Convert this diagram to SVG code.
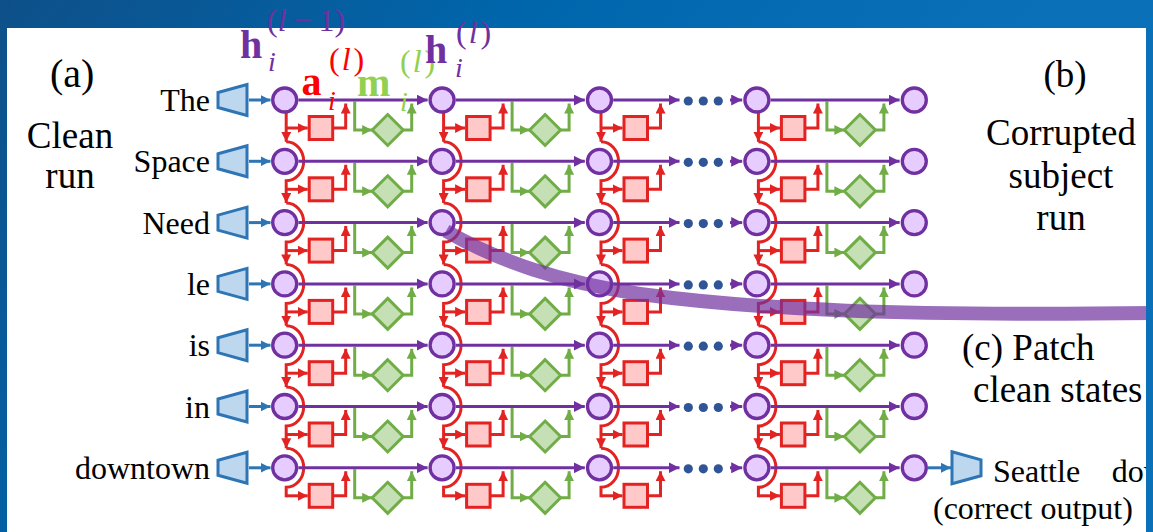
<svg xmlns="http://www.w3.org/2000/svg" xmlns:xlink="http://www.w3.org/1999/xlink" width="1153" height="532" viewBox="0 0 1153 532">
<style>
.pl{stroke:#7030a0;stroke-width:3;fill:none}
.rd{stroke:#e32322;stroke-width:3;fill:none}
.gr{stroke:#70ad47;stroke-width:3;fill:none}
.bl{stroke:#2e75b6;stroke-width:3;fill:none}
.node{fill:#e6ccff;stroke:#7030a0;stroke-width:3.3}
.sq{fill:#ffc9c9;stroke:#e32322;stroke-width:3}
.dm{fill:#c5e0b4;stroke:#70ad47;stroke-width:3}
.enc{fill:#bdd7ee;stroke:#2e75b6;stroke-width:3}
.dot{fill:#2f5597}
text{font-family:'Liberation Serif','Times New Roman',serif}
.tok{font-size:32px;text-anchor:end;fill:#000}
.lab{font-size:37px;fill:#000}
.sm{font-size:32px;fill:#000}
.big{font-size:40px;fill:#000}
.mb{font-weight:bold;font-size:40px}
.mi{font-style:italic}
</style>
<defs>
<linearGradient id="bg" gradientUnits="userSpaceOnUse" x1="0" y1="0" x2="700" y2="500">
<stop offset="0" stop-color="#0e5089"/>
<stop offset="0.5" stop-color="#0066ac"/>
<stop offset="1" stop-color="#0a71b9"/>
</linearGradient>
<marker id="ar" viewBox="0 0 10 10" refX="10" refY="5" markerWidth="10" markerHeight="10" markerUnits="userSpaceOnUse" orient="auto"><path d="M0,0 L10,5 L0,10 z" fill="#e32322"/></marker>
<marker id="ag" viewBox="0 0 10 10" refX="10" refY="5" markerWidth="10" markerHeight="10" markerUnits="userSpaceOnUse" orient="auto"><path d="M0,0 L10,5 L0,10 z" fill="#70ad47"/></marker>
<marker id="ap" viewBox="0 0 10 10" refX="10" refY="5" markerWidth="11" markerHeight="11" markerUnits="userSpaceOnUse" orient="auto"><path d="M0,0 L10,5 L0,10 z" fill="#7030a0"/></marker>
<marker id="ab" viewBox="0 0 10 10" refX="10" refY="5" markerWidth="10" markerHeight="10" markerUnits="userSpaceOnUse" orient="auto"><path d="M0,0 L10,5 L0,10 z" fill="#2e75b6"/></marker>
<g id="redcol">
<path class="rd" d="M1.5,112 V141.8" marker-end="url(#ar)"/>
<path class="rd" d="M1.5,141.8 A17.5,19.5 0 0 1 1.5,180.8 V203.1" marker-end="url(#ar)"/>
<path class="rd" d="M1.5,203.1 A17.5,19.5 0 0 1 1.5,242.1 V264.4" marker-end="url(#ar)"/>
<path class="rd" d="M1.5,264.4 A17.5,19.5 0 0 1 1.5,303.4 V325.7" marker-end="url(#ar)"/>
<path class="rd" d="M1.5,325.7 A17.5,19.5 0 0 1 1.5,364.7 V387" marker-end="url(#ar)"/>
<path class="rd" d="M1.5,387 A17.5,19.5 0 0 1 1.5,426 V448.3" marker-end="url(#ar)"/>
<path class="rd" d="M1.5,448.3 A17.5,19.5 0 0 1 1.5,487.3 V497.3"/>
</g>
<g id="rowlinks">
<path class="rd" d="M286.2,28 H307.7" marker-end="url(#ar)"/>
<path class="rd" d="M332.7,28 H345.7 V3.5" marker-end="url(#ar)"/>
<path class="gr" d="M354.7,1.5 V30 H372.2" marker-end="url(#ag)"/>
<path class="gr" d="M403.2,30 H411.7 V3.5" marker-end="url(#ag)"/>
<path class="rd" d="M443.6,28 H465.1" marker-end="url(#ar)"/>
<path class="rd" d="M490.1,28 H503.1 V3.5" marker-end="url(#ar)"/>
<path class="gr" d="M512.1,1.5 V30 H529.6" marker-end="url(#ag)"/>
<path class="gr" d="M560.6,30 H569.1 V3.5" marker-end="url(#ag)"/>
<path class="rd" d="M601,28 H622.5" marker-end="url(#ar)"/>
<path class="rd" d="M647.5,28 H660.5 V3.5" marker-end="url(#ar)"/>
<path class="rd" d="M758.4,28 H779.9" marker-end="url(#ar)"/>
<path class="rd" d="M804.9,28 H817.9 V3.5" marker-end="url(#ar)"/>
<path class="gr" d="M826.9,1.5 V30 H844.4" marker-end="url(#ag)"/>
<path class="gr" d="M875.4,30 H883.9 V3.5" marker-end="url(#ag)"/>
<path class="pl" d="M298.4,0 H427.6" marker-end="url(#ap)"/>
<path class="pl" d="M455.8,0 H584.8" marker-end="url(#ap)"/>
<path class="pl" d="M613.2,0 H679.5" marker-end="url(#ap)"/>
<path class="pl" d="M730,0 H742.2" marker-end="url(#ap)"/>
<path class="pl" d="M770.6,0 H899.6" marker-end="url(#ap)"/>
<path class="bl" d="M249,0 H270.5" marker-end="url(#ab)"/>
</g>
<g id="cellrow">
<circle class="node" cx="284.7" cy="0" r="12"/>
<circle class="node" cx="442.1" cy="0" r="12"/>
<circle class="node" cx="599.5" cy="0" r="12"/>
<circle class="node" cx="756.9" cy="0" r="12"/>
<circle class="node" cx="914.3" cy="0" r="12"/>
<rect class="sq" x="309.2" y="16.5" width="23.5" height="23"/>
<rect class="sq" x="466.6" y="16.5" width="23.5" height="23"/>
<rect class="sq" x="624" y="16.5" width="23.5" height="23"/>
<rect class="sq" x="781.4" y="16.5" width="23.5" height="23"/>
<polygon class="dm" points="387.7,14.5 403.2,30 387.7,45.5 372.2,30"/>
<polygon class="dm" points="545.1,14.5 560.6,30 545.1,45.5 529.6,30"/>
<polygon class="dm" points="859.9,14.5 875.4,30 859.9,45.5 844.4,30"/>
<circle class="dot" cx="688.3" cy="1" r="4.6"/>
<circle class="dot" cx="703.3" cy="1" r="4.6"/>
<circle class="dot" cx="718.3" cy="1" r="4.6"/>
<polygon class="enc" points="218,-7.5 247,-15.5 247,15.5 218,7.5"/>
</g>
</defs>
<rect x="0" y="0" width="1153" height="532" fill="url(#bg)"/>
<rect x="7" y="28" width="1140" height="504" fill="#ffffff"/>
<g id="connectors">
<use xlink:href="#redcol" x="284.7"/>
<use xlink:href="#redcol" x="442.1"/>
<use xlink:href="#redcol" x="599.5"/>
<use xlink:href="#redcol" x="756.9"/>
<use xlink:href="#rowlinks" y="100"/>
<use xlink:href="#rowlinks" y="161.3"/>
<use xlink:href="#rowlinks" y="222.6"/>
<use xlink:href="#rowlinks" y="283.9"/>
<use xlink:href="#rowlinks" y="345.2"/>
<use xlink:href="#rowlinks" y="406.5"/>
<use xlink:href="#rowlinks" y="467.8"/>
<path class="bl" d="M928,467.8 H951" marker-end="url(#ab)"/>
</g>
<g id="row-the"><use xlink:href="#cellrow" y="100"/></g>
<g id="row-space"><use xlink:href="#cellrow" y="161.3"/></g>
<g id="row-need"><use xlink:href="#cellrow" y="222.6"/></g>
<g id="row-le"><use xlink:href="#cellrow" y="283.9"/></g>
<g id="row-is"><use xlink:href="#cellrow" y="345.2"/></g>
<g id="row-in"><use xlink:href="#cellrow" y="406.5"/></g>
<g id="row-downtown"><use xlink:href="#cellrow" y="467.8"/></g>
<g id="output-decoder"><polygon class="enc" points="952,451.8 981,459.8 981,475.8 952,483.8"/></g>
<g id="tokens">
<text class="tok" x="210" y="111">The</text>
<text class="tok" x="210" y="172.3">Space</text>
<text class="tok" x="210" y="233.6">Need</text>
<text class="tok" x="210" y="294.9">le</text>
<text class="tok" x="210" y="356.2">is</text>
<text class="tok" x="210" y="417.5">in</text>
<text class="tok" x="210" y="478.8">downtown</text>
</g>
<g id="labels">
<text class="big" x="50" y="87">(a)</text>
<text class="lab" x="70" y="148" text-anchor="middle">Clean</text>
<text class="lab" x="70" y="188" text-anchor="middle">run</text>
<text class="lab" x="1065" y="87" text-anchor="middle">(b)</text>
<text class="lab" x="1061" y="145" text-anchor="middle">Corrupted</text>
<text class="lab" x="1061" y="188" text-anchor="middle">subject</text>
<text class="lab" x="1061" y="230" text-anchor="middle">run</text>
<text class="lab" x="962" y="360">(c) Patch</text>
<text class="lab" x="973" y="402">clean states</text>
<text class="sm" x="993" y="482">Seattle</text>
<text class="sm" x="1111.7" y="482">dow</text>
<text class="sm" x="933" y="519">(correct output)</text>
</g>
<g id="math">
<text x="240" y="58" class="mb" fill="#7030a0">h</text>
<text x="268" y="71" class="mi" font-size="28" fill="#7030a0">i</text>
<text x="267" y="31" font-size="32" fill="#7030a0">(<tspan class="mi">l</tspan><tspan dx="7">−</tspan><tspan dx="7">1</tspan>)</text>
<text x="301.5" y="95" class="mb" fill="#ff0000">a</text>
<text x="328" y="110" class="mi" font-size="28" fill="#ff0000">i</text>
<text x="329" y="70" font-size="32" fill="#ff0000">(<tspan class="mi" dx="2">l</tspan><tspan dx="3">)</tspan></text>
<text x="357" y="96" class="mb" fill="#92d050">m</text>
<text x="400" y="111" class="mi" font-size="28" fill="#92d050">i</text>
<text x="400" y="72" font-size="32" fill="#92d050">(<tspan class="mi" dx="2">l</tspan><tspan dx="3">)</tspan></text>
<text x="425" y="63" class="mb" fill="#7030a0">h</text>
<text x="455" y="77" class="mi" font-size="28" fill="#7030a0">i</text>
<text x="456" y="43" font-size="32" fill="#7030a0">(<tspan class="mi" dx="2">l</tspan><tspan dx="3">)</tspan></text>
</g>
<path id="patch-band" d="M446,231 C500,262 560,282 640,294 C760,310 900,316 1153,313" fill="none" stroke="#7030a0" stroke-opacity="0.7" stroke-width="14"/>
<rect x="1146" y="0" width="7" height="532" fill="url(#bg)"/>
</svg>
